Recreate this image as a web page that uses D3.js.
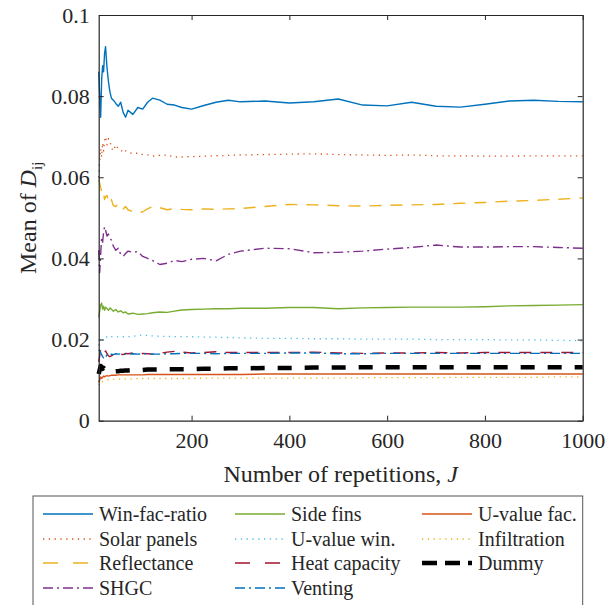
<!DOCTYPE html>
<html>
<head>
<meta charset="utf-8">
<script src="https://cdn.jsdelivr.net/npm/d3@7"></script>
<style>
  html, body { margin: 0; padding: 0; background: #fff; }
  svg { display: block; }
</style>
</head>
<body>
<svg id="chart" width="605" height="605" font-family="Liberation Serif"></svg>
<script>
// ---------- data ----------
const reps = [10,12,14,16,18,20,22,24,27,30,33,36,40,45,50,55,60,65,70,80,90,100,110,120,135,150,165,180,200,225,250,275,300,350,400,450,500,550,600,650,700,750,800,850,900,950,1000];

const winFacRatio = [0.0860,0.0800,0.0748,0.0840,0.0875,0.0860,0.0905,0.0922,0.0870,0.0835,0.0810,0.0795,0.0790,0.0782,0.0775,0.0785,0.0760,0.0748,0.0765,0.0755,0.0772,0.0768,0.0785,0.0795,0.0790,0.0780,0.0778,0.0772,0.0768,0.0777,0.0785,0.0790,0.0786,0.0788,0.0783,0.0786,0.0793,0.0778,0.0776,0.0785,0.0775,0.0773,0.0780,0.0788,0.0790,0.0787,0.0786];
const solarPanels = [0.0600,0.0640,0.0670,0.0650,0.0685,0.0665,0.0690,0.0700,0.0680,0.0695,0.0690,0.0672,0.0665,0.0680,0.0670,0.0668,0.0660,0.0665,0.0662,0.0658,0.0660,0.0656,0.0655,0.0652,0.0654,0.0655,0.0650,0.0650,0.0651,0.0652,0.0653,0.0654,0.0655,0.0656,0.0657,0.0658,0.0656,0.0655,0.0654,0.0655,0.0653,0.0653,0.0652,0.0652,0.0653,0.0653,0.0653];
const reflectance = [0.0595,0.0585,0.0575,0.0565,0.0570,0.0560,0.0545,0.0552,0.0555,0.0540,0.0535,0.0545,0.0530,0.0528,0.0535,0.0525,0.0522,0.0528,0.0520,0.0515,0.0512,0.0515,0.0522,0.0528,0.0525,0.0520,0.0523,0.0521,0.0520,0.0522,0.0521,0.0522,0.0523,0.0528,0.0533,0.0532,0.0530,0.0529,0.0531,0.0532,0.0533,0.0536,0.0538,0.0541,0.0543,0.0546,0.0549];
const shgc = [0.0420,0.0365,0.0410,0.0450,0.0440,0.0465,0.0478,0.0470,0.0455,0.0460,0.0450,0.0445,0.0430,0.0420,0.0425,0.0410,0.0405,0.0412,0.0418,0.0415,0.0417,0.0405,0.0400,0.0395,0.0385,0.0388,0.0395,0.0392,0.0398,0.0400,0.0394,0.0410,0.0418,0.0425,0.0424,0.0414,0.0415,0.0418,0.0423,0.0427,0.0433,0.0428,0.0428,0.0429,0.0429,0.0427,0.0425];
const sideFins = [0.0255,0.0270,0.0285,0.0290,0.0275,0.0282,0.0272,0.0280,0.0276,0.0272,0.0278,0.0275,0.0270,0.0274,0.0268,0.0271,0.0266,0.0268,0.0263,0.0265,0.0262,0.0263,0.0264,0.0266,0.0268,0.0267,0.0270,0.0273,0.0274,0.0275,0.0276,0.0276,0.0277,0.0277,0.0279,0.0279,0.0276,0.0278,0.0279,0.0280,0.0280,0.0280,0.0281,0.0283,0.0284,0.0285,0.0286];
const uValueWin = [0.0185,0.0195,0.0200,0.0205,0.0198,0.0203,0.0206,0.0204,0.0207,0.0205,0.0206,0.0207,0.0206,0.0206,0.0207,0.0206,0.0207,0.0206,0.0207,0.0208,0.0210,0.0211,0.0210,0.0209,0.0208,0.0208,0.0207,0.0207,0.0207,0.0206,0.0206,0.0205,0.0204,0.0203,0.0203,0.0202,0.0202,0.0201,0.0201,0.0201,0.0200,0.0200,0.0200,0.0199,0.0199,0.0198,0.0197];
const heatCapacity = [0.0145,0.0160,0.0175,0.0180,0.0175,0.0170,0.0168,0.0172,0.0165,0.0160,0.0158,0.0160,0.0163,0.0160,0.0162,0.0164,0.0163,0.0166,0.0165,0.0167,0.0165,0.0166,0.0165,0.0164,0.0166,0.0169,0.0171,0.0169,0.0167,0.0168,0.0170,0.0168,0.0168,0.0168,0.0168,0.0169,0.0167,0.0166,0.0167,0.0167,0.0168,0.0167,0.0168,0.0168,0.0168,0.0168,0.0168];
const venting = [0.0175,0.0172,0.0168,0.0162,0.0158,0.0155,0.0160,0.0157,0.0162,0.0160,0.0163,0.0164,0.0163,0.0165,0.0164,0.0165,0.0165,0.0164,0.0164,0.0165,0.0164,0.0165,0.0165,0.0164,0.0164,0.0165,0.0165,0.0166,0.0166,0.0166,0.0165,0.0166,0.0166,0.0166,0.0167,0.0167,0.0165,0.0165,0.0166,0.0166,0.0166,0.0166,0.0166,0.0166,0.0166,0.0166,0.0166];
const uValueFac = [0.0095,0.0100,0.0108,0.0104,0.0107,0.0110,0.0108,0.0110,0.0111,0.0110,0.0111,0.0112,0.0112,0.0112,0.0113,0.0113,0.0113,0.0113,0.0113,0.0113,0.0113,0.0113,0.0114,0.0114,0.0114,0.0114,0.0114,0.0114,0.0114,0.0114,0.0114,0.0114,0.0114,0.0115,0.0115,0.0115,0.0115,0.0115,0.0115,0.0115,0.0115,0.0115,0.0115,0.0115,0.0115,0.0115,0.0115];
const infiltration = [0.0088,0.0092,0.0095,0.0093,0.0097,0.0098,0.0099,0.0100,0.0100,0.0101,0.0101,0.0102,0.0102,0.0102,0.0102,0.0103,0.0103,0.0103,0.0103,0.0103,0.0104,0.0104,0.0104,0.0104,0.0104,0.0104,0.0104,0.0104,0.0104,0.0105,0.0105,0.0105,0.0105,0.0105,0.0105,0.0105,0.0105,0.0106,0.0106,0.0106,0.0106,0.0107,0.0107,0.0107,0.0107,0.0108,0.0108];
const dummy = [0.0115,0.0125,0.0135,0.0132,0.0128,0.0130,0.0127,0.0125,0.0122,0.0121,0.0123,0.0122,0.0121,0.0122,0.0122,0.0123,0.0123,0.0124,0.0124,0.0125,0.0125,0.0125,0.0126,0.0126,0.0126,0.0127,0.0127,0.0127,0.0127,0.0128,0.0128,0.0129,0.0129,0.0130,0.0130,0.0131,0.0131,0.0132,0.0132,0.0132,0.0132,0.0132,0.0132,0.0132,0.0132,0.0132,0.0132];

const seriesNames = ["Win-fac-ratio","Solar panels","Reflectance","SHGC","Side fins","U-value win.","Heat capacity","Venting","U-value fac.","Infiltration","Dummy"];
const seriesValues = [winFacRatio,solarPanels,reflectance,shgc,sideFins,uValueWin,heatCapacity,venting,uValueFac,infiltration,dummy];

const xTicks = [200,400,600,800,1000];
const yTicks = [0,0.02,0.04,0.06,0.08,0.1];
const yTickLabels = ["0","0.02","0.04","0.06","0.08","0.1"];

// ---------- styles ----------
const styles = [
  {color:"#0072BD", dash:null,          w:1.4},
  {color:"#D95319", dash:"1.3,4.5",     w:1.3},
  {color:"#EDB120", dash:"12,9",        w:1.4},
  {color:"#7E2F8E", dash:"10,4,2,4",    w:1.4},
  {color:"#77AC30", dash:null,          w:1.4},
  {color:"#4DBEEE", dash:"1.3,4.5",     w:1.3},
  {color:"#A2142F", dash:"12,9",        w:1.4},
  {color:"#0072BD", dash:"10,4,2,4",    w:1.4},
  {color:"#D95319", dash:null,          w:1.4},
  {color:"#EDB120", dash:"1.3,4.5",     w:1.3},
  {color:"#000000", dash:"14,13",       w:4.5}
];

// ---------- layout ----------
const FONT = "Liberation Serif";
const L = 98.7, T = 15, R = 582.7, B = 420.7;
const svg = d3.select("#chart");
const x = d3.scaleLinear().domain([10,1000]).range([L,R]);
const y = d3.scaleLinear().domain([0,0.1]).range([B,T]);
const axisColor = "#262626";

// lines
const line = d3.line().x((d,i)=>x(reps[i])).y(d=>y(d));
const gLines = svg.append("g");
seriesValues.forEach((vals,k)=>{
  const s = styles[k];
  gLines.append("path")
    .attr("d", line(vals))
    .attr("fill","none")
    .attr("stroke", s.color)
    .attr("stroke-width", s.w)
    .attr("stroke-dasharray", s.dash)
    .attr("stroke-linejoin","round");
});

// axes
const fontSize = 22;
const gx = svg.append("g").attr("transform",`translate(0,${B})`)
  .call(d3.axisBottom(x).tickValues(xTicks).tickSizeInner(-5).tickSizeOuter(0).tickPadding(12).tickFormat(d3.format("d")));
const gxt = svg.append("g").attr("transform",`translate(0,${T})`)
  .call(d3.axisTop(x).tickValues(xTicks).tickSizeInner(-5).tickSizeOuter(0).tickFormat(""));
const gy = svg.append("g").attr("transform",`translate(${L},0)`)
  .call(d3.axisLeft(y).tickValues(yTicks).tickSizeInner(-5).tickSizeOuter(0).tickPadding(9).tickFormat((d,i)=>yTickLabels[i]));
const gyr = svg.append("g").attr("transform",`translate(${R},0)`)
  .call(d3.axisRight(y).tickValues(yTicks).tickSizeInner(-5).tickSizeOuter(0).tickFormat(""));
[gx,gxt,gy,gyr].forEach(g=>{
  g.attr("font-family", FONT).attr("font-size", fontSize);
  g.selectAll("path").attr("stroke",axisColor).attr("stroke-width",1.2);
  g.selectAll("line").attr("stroke",axisColor).attr("stroke-width",1);
  g.selectAll("text").attr("fill",axisColor);
});

// axis labels
const xl = svg.append("text")
  .attr("x", (L+R)/2).attr("y", 482)
  .attr("text-anchor","middle")
  .attr("font-family",FONT).attr("fill",axisColor)
  .attr("font-size", 24);
xl.append("tspan").text("Number of repetitions,  ");
xl.append("tspan").attr("font-style","italic").text("J");

const yl = svg.append("text")
  .attr("transform", `translate(36,${(T+B)/2}) rotate(-90)`)
  .attr("text-anchor","middle")
  .attr("font-family",FONT).attr("fill",axisColor)
  .attr("font-size", 24);
yl.append("tspan").text("Mean of ");
yl.append("tspan").attr("font-style","italic").text("D");
yl.append("tspan").attr("font-size",15).attr("dy",6).text("ij");

// legend
const legX = 33, legY = 496;
svg.append("rect").attr("x",legX).attr("y",legY).attr("width",R-legX).attr("height",130)
  .attr("fill","#fff").attr("stroke","#555").attr("stroke-width",1);
const colX = [43, 235, 422];
const rowY = [514, 539, 563, 588];
const order = [[0,0],[0,1],[0,2],[0,3],[1,0],[1,1],[1,2],[1,3],[2,0],[2,1],[2,2]];
seriesNames.forEach((name,k)=>{
  const [c,r] = order[k];
  const s = styles[k];
  const lx = colX[c], ly = rowY[r];
  svg.append("line").attr("x1",lx).attr("x2",lx+50).attr("y1",ly).attr("y2",ly)
    .attr("stroke",s.color).attr("stroke-width", k===10 ? 4.5 : 1.6)
    .attr("stroke-dasharray", s.dash ? (k===10 ? "15,8" : (s.dash==="12,9" ? "15,15" : s.dash)) : null);
  svg.append("text").attr("x",lx+56).attr("y",ly).attr("dy","0.35em")
    .attr("font-family",FONT).attr("fill",axisColor)
    .attr("font-size",20).text(name);
});
</script>
</body>
</html>
